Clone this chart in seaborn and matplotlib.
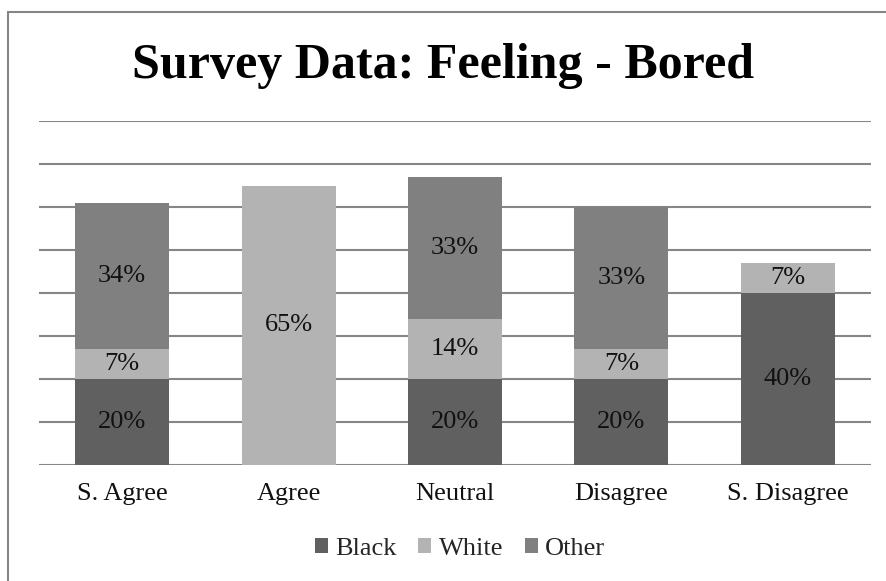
import matplotlib
matplotlib.use("Agg")
import matplotlib.pyplot as plt
from matplotlib.patches import Rectangle, Patch
import numpy as np
import pandas as pd
import seaborn as sns

categories = ["S. Agree", "Agree", "Neutral", "Disagree", "S. Disagree"]
black = [20, 0, 20, 20, 40]
white = [7, 65, 14, 7, 7]
other = [34, 0, 33, 33, 0]
series_names = ["Black", "White", "Other"]
colors = {"Black": "#606060", "White": "#b3b3b3", "Other": "#808080"}

df = pd.DataFrame({"category": categories, "Black": black, "White": white, "Other": other})

sns.set_theme(style="white")
plt.rcParams["font.family"] = ["Liberation Serif", "DejaVu Serif"]

fig = plt.figure(figsize=(8.87, 5.81), dpi=100)
ax = fig.add_axes([39 / 887, 1 - 465 / 581, (871 - 39) / 887, (465 - 121) / 581])

# gridlines every 10 %
for y in range(0, 90, 10):
    ax.axhline(y, color="#868686", lw=1.5, zorder=0)

bottom = np.zeros(len(categories))
for name in series_names:
    vals = df[name].to_numpy(dtype=float)
    sns.barplot(data=df, x="category", y=name, color=colors[name], ax=ax,
                width=0.565, bottom=bottom, saturation=1, linewidth=0, zorder=2)
    cont = ax.containers[-1]
    labels = [f"{int(v)}%" if v > 0 else "" for v in vals]
    ax.bar_label(cont, labels=labels, label_type="center", fontsize=19, color="#111111")
    bottom = bottom + vals

ax.set_ylim(0, 80)
ax.set_xlim(-0.5, len(categories) - 0.5)
ax.set_xlabel("")
ax.set_ylabel("")
ax.set_yticks([])
ax.tick_params(axis="x", length=0, labelsize=19, pad=13, colors="#111111")
for s in ax.spines.values():
    s.set_visible(False)

fig.text(0.5, 1 - 66 / 581, "Survey Data: Feeling - Bored", ha="center", va="center",
         fontsize=36, fontweight="bold", color="black")

handles = [Patch(facecolor=colors[n], edgecolor="none") for n in series_names]
fig.legend(handles, series_names, loc="center", bbox_to_anchor=(460 / 887, 1 - 549 / 581),
           ncol=3, frameon=False, fontsize=19, handlelength=0.5, handleheight=0.5,
           handletextpad=0.27, columnspacing=0.83, borderpad=0)

# outer chart frame
fig.patches.append(Rectangle((8.5 / 887, -0.1), 1.2, 1 - 12.5 / 581 + 0.1,
                             transform=fig.transFigure, fill=False,
                             edgecolor="#868686", lw=1.5))

fig.savefig("out.png", dpi=100, facecolor="white")
